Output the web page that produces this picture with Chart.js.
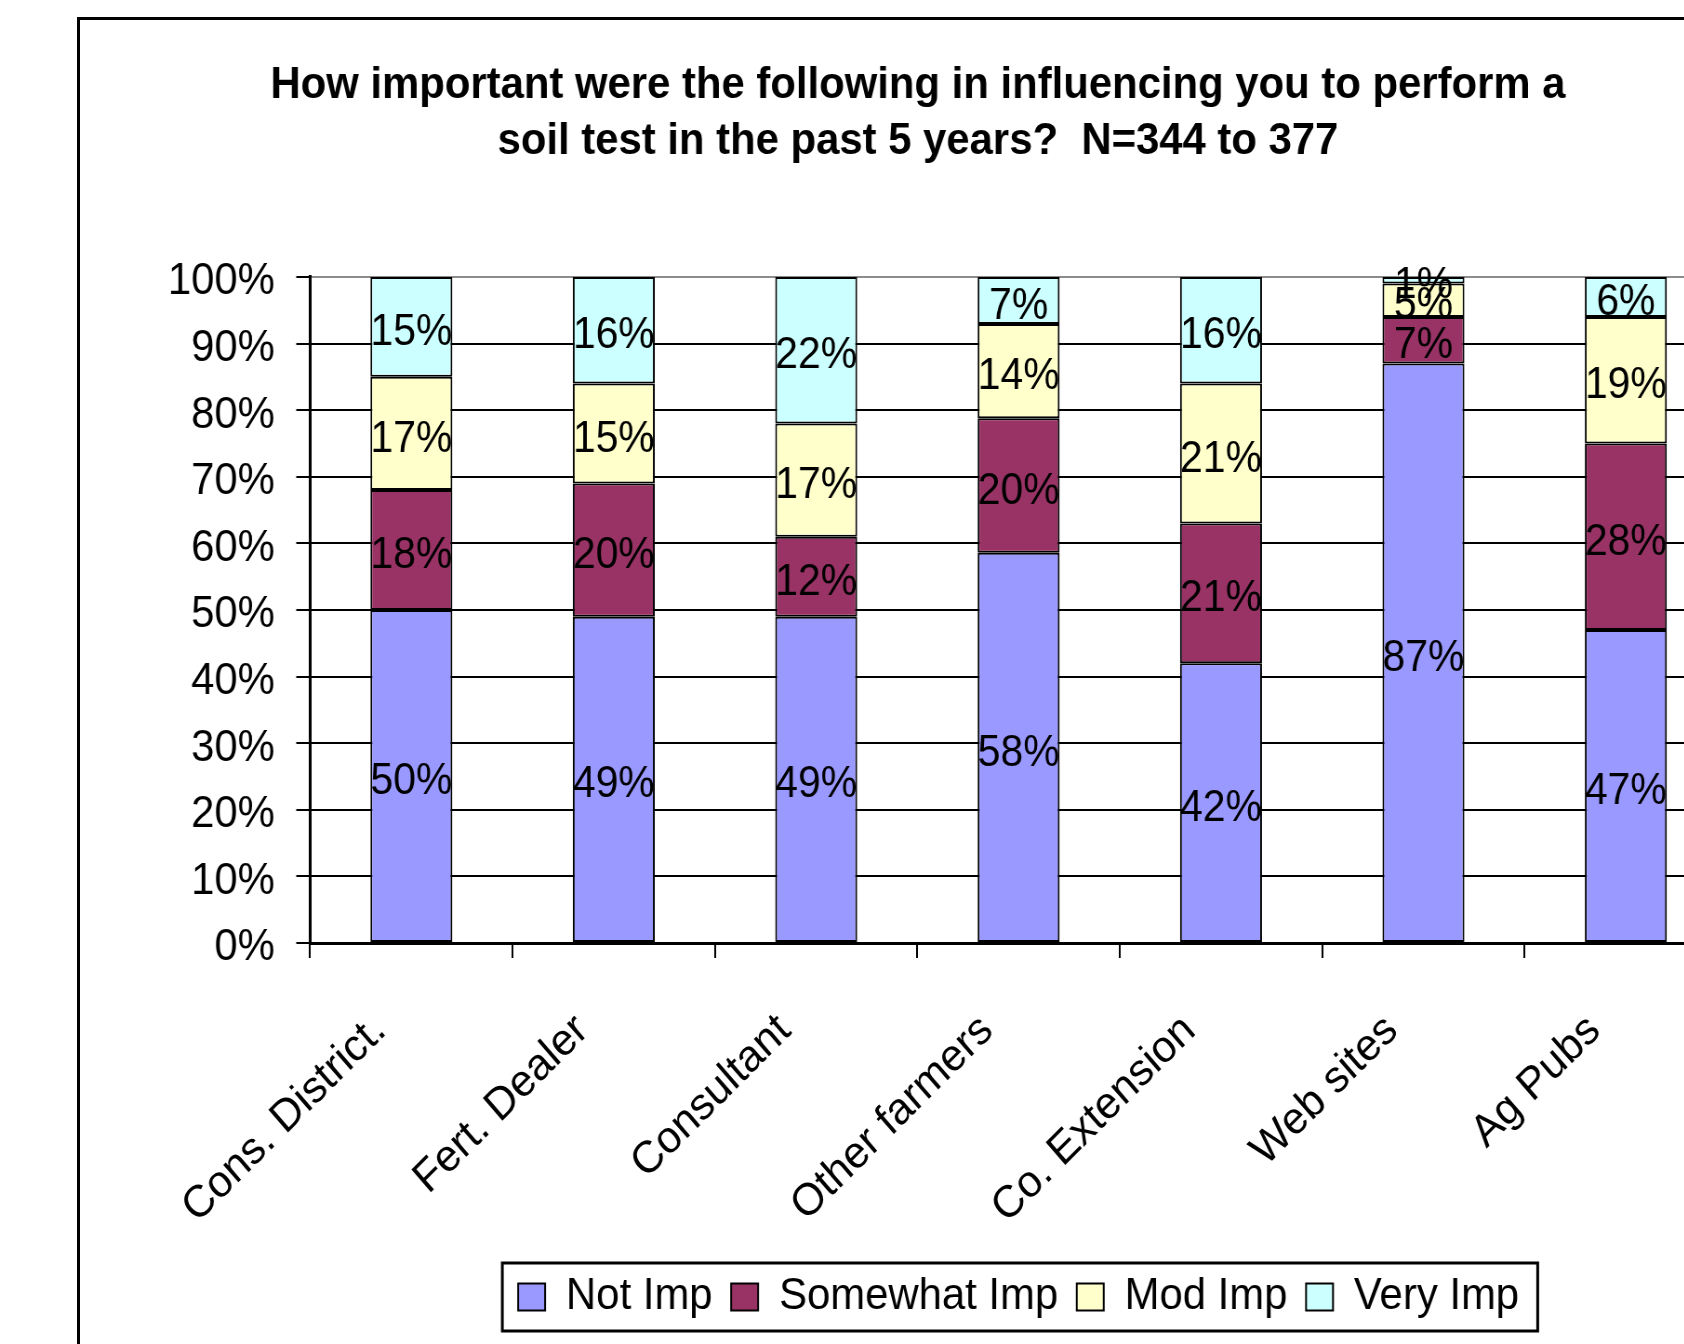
<!DOCTYPE html>
<html>
<head>
<meta charset="utf-8">
<title>Soil test influences</title>
<script src="https://cdn.jsdelivr.net/npm/chart.js@4.4.1/dist/chart.umd.min.js"></script>
<style>
    html, body { margin: 0; padding: 0; background: #fff; overflow: hidden; }
    body { width: 1684px; height: 1344px; position: relative; }
    #frame {
        position: absolute; left: 77px; top: 17px;
        width: 1750px; height: 1400px;
        border: 3px solid #000;
    }
    /* texto estreito e alto: o canvas é desenhado mais largo e comprimido na horizontal */
    #chartCanvas {
        position: absolute; left: 80px; top: 20px;
        transform: scaleX(0.93);
        transform-origin: 0 0;
    }
</style>
</head>
<body>
<div id="frame"></div>
<canvas id="chartCanvas" width="1802" height="1324"></canvas>
<script>
// Categorias e percentuais de cada nível de importância
const categories = ['Cons. District.', 'Fert. Dealer', 'Consultant', 'Other farmers', 'Co. Extension', 'Web sites', 'Ag Pubs'];
const notImp      = [50, 49, 49, 58, 42, 87, 47];
const somewhatImp = [18, 20, 12, 20, 21, 7, 28];
const modImp      = [17, 15, 17, 14, 21, 5, 19];
const veryImp     = [15, 16, 22, 7, 16, 1, 6];
const yTicks = [0, 10, 20, 30, 40, 50, 60, 70, 80, 90, 100];

const FONT = '"Liberation Sans", Arial, sans-serif';

// Empilhamento 100%: cada coluna normalizada pelo total
const totals = categories.map((c, i) => notImp[i] + somewhatImp[i] + modImp[i] + veryImp[i]);
function share(values) {
    return values.map((v, i) => v / totals[i] * 100);
}

function makeDataset(label, values, color) {
    return {
        label: label,
        data: share(values),
        rawValues: values,
        backgroundColor: color,
        borderColor: '#000',
        borderWidth: 2,
        borderSkipped: false,
        categoryPercentage: 1,
        barPercentage: 0.405
    };
}

// Rótulos de percentual no centro de cada segmento
const segmentLabels = {
    id: 'segmentLabels',
    afterDatasetsDraw(chart) {
        const ctx = chart.ctx;
        ctx.save();
        ctx.font = '44px ' + FONT;
        ctx.fillStyle = '#000';
        ctx.textAlign = 'center';
        ctx.textBaseline = 'middle';
        chart.data.datasets.forEach((ds, i) => {
            chart.getDatasetMeta(i).data.forEach((bar, j) => {
                const p = bar.getProps(['x', 'y', 'base'], true);
                ctx.fillText(ds.rawValues[j] + '%', p.x, (p.y + p.base) / 2 + 6);
            });
        });
        ctx.restore();
    }
};

// Moldura em volta da legenda
const legendFrame = {
    id: 'legendFrame',
    afterDraw(chart) {
        const boxes = chart.legend.legendHitBoxes;
        if (!boxes || !boxes.length) return;
        const left = Math.min(...boxes.map(b => b.left)) - 17;
        const right = Math.max(...boxes.map(b => b.left + b.width)) + 20;
        const mid = boxes[0].top + boxes[0].height / 2;
        const ctx = chart.ctx;
        ctx.save();
        ctx.strokeStyle = '#000';
        ctx.lineWidth = 3;
        ctx.strokeRect(left, mid - 34, right - left, 68);
        ctx.restore();
    }
};

const ctx = document.getElementById('chartCanvas').getContext('2d');
new Chart(ctx, {
    type: 'bar',
    data: {
        labels: categories,
        datasets: [
            makeDataset('Not Imp', notImp, '#9999FF'),
            makeDataset('Somewhat Imp', somewhatImp, '#993366'),
            makeDataset('Mod Imp', modImp, '#FFFFCC'),
            makeDataset('Very Imp', veryImp, '#CCFFFF')
        ]
    },
    options: {
        responsive: false,
        devicePixelRatio: 1,
        animation: false,
        layout: { padding: { left: 31, right: 31, top: 0, bottom: 14.5 } },
        plugins: {
            tooltip: { enabled: false },
            title: {
                display: true,
                text: ['How important were the following in influencing you to perform a',
                       'soil test in the past 5 years?  N=344 to 377'],
                color: '#000',
                font: { family: FONT, size: 45, weight: 'bold', lineHeight: 1.244 },
                padding: { top: 38, bottom: 107 }
            },
            legend: {
                position: 'bottom',
                fullSize: false,
                labels: {
                    color: '#000',
                    font: { family: FONT, size: 45 },
                    boxWidth: 29,
                    boxHeight: 27,
                    padding: 20
                }
            }
        },
        scales: {
            x: {
                stacked: true,
                afterFit(scale) { scale.height = 311.5; },
                grid: {
                    offset: true,
                    drawOnChartArea: false,
                    drawTicks: true,
                    tickLength: 15,
                    color: '#000',
                    lineWidth: 2
                },
                border: { color: '#000', width: 3 },
                ticks: {
                    color: '#000',
                    font: { family: FONT, size: 45 },
                    minRotation: 43,
                    maxRotation: 43,
                    autoSkip: false,
                    padding: 46,
                    labelOffset: -34
                }
            },
            y: {
                stacked: true,
                min: 0,
                max: 100,
                afterFit(scale) { scale.width = 216.5; },
                afterBuildTicks(scale) { scale.ticks = yTicks.map(v => ({ value: v })); },
                grid: {
                    color: c => (c.tick && c.tick.value === 100) ? '#8c8c8c' : '#000',
                    tickColor: '#000',
                    lineWidth: 2,
                    tickLength: 15
                },
                border: { color: '#000', width: 3 },
                ticks: {
                    color: '#000',
                    font: { family: FONT, size: 45 },
                    padding: 23,
                    labelOffset: 5,
                    callback: v => v + '%'
                }
            }
        }
    },
    plugins: [segmentLabels, legendFrame]
});
</script>
</body>
</html>
